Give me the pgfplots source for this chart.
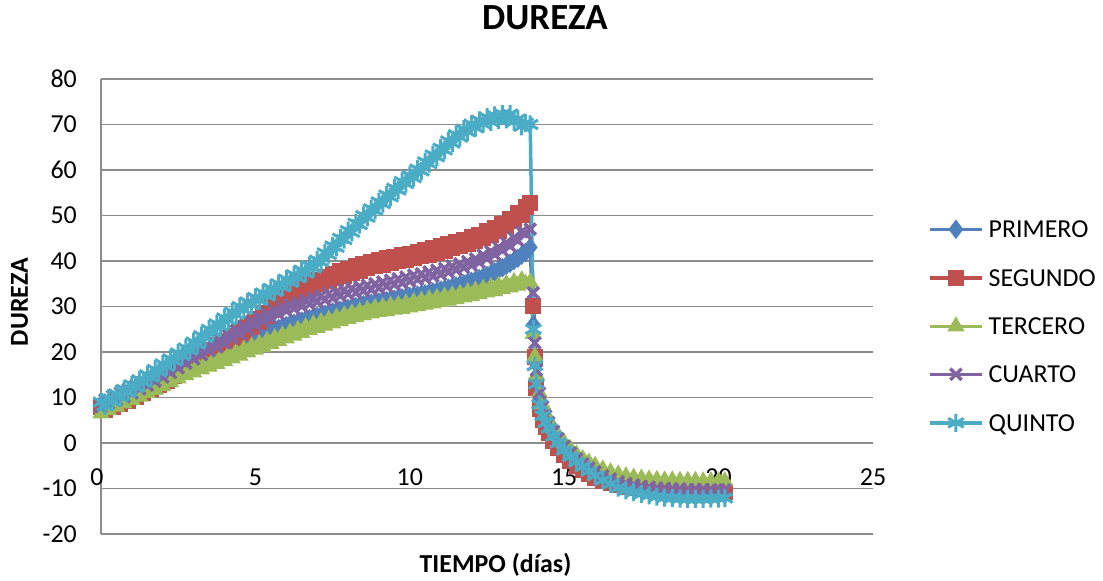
\documentclass[border=0pt]{standalone}
\usepackage{fontspec}
\setmainfont{Carlito}
\usepackage{pgfplots}
\usepackage{pgfplotstable}
\pgfplotsset{compat=1.18}

\definecolor{cPrimero}{HTML}{4F81BD}
\definecolor{cSegundo}{HTML}{C0504D}
\definecolor{cTercero}{HTML}{9BBB59}
\definecolor{cCuarto}{HTML}{8064A2}
\definecolor{cQuinto}{HTML}{4BACC6}
\definecolor{gridgray}{HTML}{8C8C8C}

% dureza por día: p = primero, s = segundo, t = tercero, c = cuarto, q = quinto
\pgfplotstableread{
x      p     s     t     c     q
0.000  8.5   8.0   6.5   8.0   9.0
0.125  8.8   7.2   7.9   9.5   8.2
0.250  9.0   8.7   7.2   8.7   9.8
0.375  9.3   7.9   8.6   10.3  9.1
0.500  9.5   9.4   8.0   9.5   10.8
0.625  9.8   8.6   9.4   11.0  10.1
0.750  10.0  10.1  8.7   10.2  11.8
0.875  10.3  9.3   10.1  11.8  11.1
1.000  10.6  10.9  9.5   11.0  12.8
1.125  11.0  10.1  10.9  12.6  12.2
1.250  11.3  11.7  10.2  11.9  13.9
1.375  11.7  11.0  11.6  13.5  13.3
1.500  12.0  12.6  11.0  12.7  15.0
1.625  12.4  11.9  12.4  14.3  14.4
1.750  12.8  13.5  11.7  13.6  16.2
1.875  13.2  12.8  13.1  15.2  15.6
2.000  13.6  14.4  12.5  14.5  17.4
2.125  14.0  13.7  14.0  16.2  16.8
2.250  14.4  15.4  13.4  15.5  18.5
2.375  14.8  14.7  14.8  17.2  18.0
2.500  15.2  16.4  14.2  16.5  19.8
2.625  15.6  15.7  15.6  18.2  19.2
2.750  16.0  17.4  14.9  17.5  20.9
2.875  16.4  16.8  16.2  19.2  20.4
3.000  16.8  18.5  15.5  18.5  22.2
3.125  17.2  17.8  16.9  20.1  21.7
3.250  17.6  19.5  16.2  19.4  23.6
3.375  18.0  18.8  17.5  21.0  23.1
3.500  18.4  20.5  16.8  20.3  25.0
3.625  18.8  19.8  18.1  21.9  24.4
3.750  19.2  21.5  17.4  21.1  26.2
3.875  19.6  20.8  18.7  22.7  25.7
4.000  20.0  22.5  18.0  22.0  27.5
4.125  20.4  21.9  19.3  23.7  27.0
4.250  20.8  23.6  18.6  23.0  28.8
4.375  21.2  23.0  19.9  24.7  28.2
4.500  21.6  24.7  19.2  24.0  30.0
4.625  22.0  24.1  20.6  25.7  29.3
4.750  22.4  25.9  19.9  25.0  31.0
4.875  22.8  25.4  21.2  26.7  30.3
5.000  23.2  27.2  20.5  26.0  32.0
5.125  23.6  26.7  21.8  27.6  31.3
5.250  23.9  28.5  21.1  26.8  33.0
5.375  24.3  28.0  22.5  28.3  32.3
5.500  24.6  29.8  21.8  27.5  34.0
5.625  24.9  29.2  23.1  29.1  33.3
5.750  25.2  31.0  22.4  28.3  35.0
5.875  25.5  30.4  23.7  29.8  34.3
6.000  25.8  32.2  23.0  29.0  36.0
6.125  26.1  31.5  24.3  30.4  35.3
6.250  26.3  33.2  23.6  29.5  37.0
6.375  26.6  32.5  24.9  30.9  36.3
6.500  26.8  34.1  24.2  30.0  38.0
6.625  27.1  33.4  25.5  31.4  37.3
6.750  27.3  35.0  24.8  30.5  39.0
6.875  27.6  34.2  26.1  31.9  38.4
7.000  27.8  35.8  25.3  31.0  40.2
7.125  28.1  35.0  26.6  32.4  39.8
7.250  28.3  36.5  25.8  31.4  41.8
7.375  28.6  35.6  27.1  32.8  41.4
7.500  28.8  37.1  26.3  31.8  43.3
7.625  29.0  36.2  27.6  33.2  43.0
7.750  29.2  37.7  26.8  32.3  45.0
7.875  29.4  36.8  28.1  33.7  44.7
8.000  29.6  38.3  27.3  32.7  46.7
8.125  29.8  37.4  28.5  34.0  46.3
8.250  30.0  38.8  27.7  33.0  48.3
8.375  30.2  37.9  28.9  34.4  48.0
8.500  30.4  39.3  28.1  33.4  50.0
8.625  30.6  38.4  29.3  34.7  49.6
8.750  30.7  39.8  28.5  33.7  51.5
8.875  30.9  38.8  29.7  35.0  51.1
9.000  31.0  40.2  28.8  34.0  53.0
9.125  31.2  39.2  29.9  35.4  52.6
9.250  31.3  40.6  29.0  34.4  54.5
9.375  31.5  39.6  30.2  35.8  54.1
9.500  31.6  40.9  29.3  34.8  56.0
9.625  31.8  39.9  30.4  36.1  55.6
9.750  31.9  41.3  29.5  35.1  57.5
9.875  32.1  40.3  30.7  36.5  57.0
10.000 32.2  41.6  29.8  35.5  58.8
10.125 32.4  40.6  31.0  36.9  58.3
10.250 32.5  42.0  30.1  35.9  60.2
10.375 32.7  41.0  31.3  37.2  59.8
10.500 32.8  42.4  30.4  36.2  61.8
10.625 33.0  41.4  31.6  37.6  61.4
10.750 33.2  42.8  30.7  36.6  63.3
10.875 33.4  41.8  31.9  38.0  62.9
11.000 33.6  43.2  31.0  37.0  64.8
11.125 33.8  42.3  32.2  38.4  64.4
11.250 34.0  43.7  31.3  37.5  66.4
11.375 34.3  42.8  32.5  38.9  65.9
11.500 34.5  44.2  31.6  38.0  67.8
11.625 34.8  43.3  32.8  39.4  67.2
11.750 35.0  44.7  32.0  38.5  69.0
11.875 35.3  43.8  33.2  39.9  68.4
12.000 35.5  45.2  32.3  39.0  70.1
12.125 35.8  44.3  33.5  40.5  69.3
12.250 36.1  45.8  32.7  39.7  70.9
12.375 36.5  45.0  33.9  41.3  70.1
12.500 36.8  46.5  33.1  40.5  71.6
12.625 37.2  45.7  34.3  42.1  70.6
12.750 37.6  47.3  33.4  41.4  72.0
12.875 38.1  46.6  34.6  43.0  71.0
13.000 38.5  48.2  33.8  42.3  72.3
13.125 39.0  47.6  35.0  44.0  71.1
13.250 39.5  49.3  34.2  43.3  72.3
13.375 40.1  48.7  35.4  45.1  70.6
13.500 40.6  50.5  34.6  44.5  71.2
13.625 41.3  50.0  35.8  46.4  69.6
13.750 41.9  51.8  35.0  46.0  70.3
13.900 43.0  52.8  35.3  47.0  70.0
14.000 26.0  30.0  24.0  33.0  25.0
14.050 19.0  19.0  19.0  22.0  17.0
14.100 14.0  12.0  15.0  16.0  13.0
14.200 9.5   7.5   11.0  11.0  8.5
14.300 7.0   5.0   8.5   8.0   6.0
14.400 5.2   3.5   6.5   6.0   4.5
14.500 3.8   2.3   5.0   4.5   3.3
14.650 2.0   0.5   3.2   2.6   1.5
14.800 0.4   -1.0  1.7   1.0   0.0
15.000 -1.2  -2.6  0.0   -0.7  -1.6
15.200 -2.6  -4.0  -1.3  -2.2  -3.0
15.400 -3.8  -5.0  -2.5  -3.5  -4.2
15.600 -4.9  -6.0  -3.5  -4.6  -5.2
15.800 -5.8  -6.8  -4.3  -5.5  -6.2
16.000 -6.6  -7.6  -5.0  -6.3  -7.2
16.250 -7.5  -8.3  -5.8  -7.2  -8.2
16.500 -8.2  -8.9  -6.4  -7.9  -9.0
16.750 -8.8  -9.3  -6.9  -8.5  -9.8
17.000 -9.3  -9.7  -7.3  -8.9  -10.4
17.250 -9.7  -10.0 -7.6  -9.2  -10.8
17.500 -10.0 -10.2 -7.8  -9.5  -11.2
17.750 -10.3 -10.4 -8.0  -9.7  -11.5
18.000 -10.5 -10.5 -8.1  -9.9  -11.8
18.250 -10.6 -10.6 -8.2  -10.0 -12.0
18.500 -10.7 -10.6 -8.2  -10.1 -12.1
18.750 -10.7 -10.7 -8.3  -10.1 -12.2
19.000 -10.8 -10.7 -8.3  -10.2 -12.3
19.250 -10.8 -10.7 -8.3  -10.2 -12.3
19.500 -10.8 -10.8 -8.4  -10.2 -12.3
19.750 -10.9 -10.8 -8.4  -10.3 -12.2
20.000 -10.9 -10.8 -8.4  -10.3 -12.2
20.200 -10.9 -10.8 -8.4  -10.3 -12.1
}\dureza

\begin{document}
\begin{tikzpicture}
\useasboundingbox (-101bp,-47bp) rectangle (1002bp,534bp);
\begin{axis}[
  at={(0,0)}, anchor=south west,
  scale only axis, width=772bp, height=455bp,
  xmin=0, xmax=25, ymin=-20, ymax=80,
  xtick={0,5,...,25}, ytick={-20,-10,...,80},
  xticklabels={\hspace*{-8bp}0,5,10,15,20,25},
  axis y line=left, axis x line=bottom,
  x axis line style={draw=none},
  y axis line style={-, draw=gridgray, line width=1.6bp},
  major tick length=0pt,
  ymajorgrids, grid style={gridgray, line width=1.6bp},
  tick label style={font=\fontsize{26}{30}\selectfont},
  /pgf/number format/assume math mode=true,
  yticklabel style={anchor=east, inner sep=0pt, xshift=-24bp},
  xticklabel style={anchor=center, inner sep=0pt, yshift=57bp},
  title={DUREZA},
  title style={at={(axis description cs:0.5751,1.1209)}, anchor=center,
    inner sep=0pt, font=\bfseries\fontsize{37}{40}\selectfont},
  xlabel={TIEMPO (días)},
  xlabel style={at={(axis description cs:0.511,-0.0857)}, anchor=base,
    inner sep=0pt, font=\bfseries\fontsize{26}{30}\selectfont},
  ylabel={DUREZA},
  ylabel style={at={(axis description cs:-0.0946,0.51)}, anchor=base,
    inner sep=0pt, font=\bfseries\fontsize{26}{30}\selectfont},
  clip=false,
  legend style={at={(axis description cs:1.0712,0.457)}, anchor=west,
    draw=none, fill=none, inner sep=0pt, row sep=31bp,
    font=\fontsize{26}{30}\selectfont,
    nodes={inner sep=0pt, text height=17bp, text depth=0pt}},
  legend cell align=left,
  legend image code/.code={
    \draw[mark repeat=2, mark phase=2, #1]
      plot coordinates {(0bp,0bp) (26bp,0bp) (52bp,0bp)};
    \path (57bp,0bp);
  },
]
\addplot[color=cPrimero, line width=3.5bp, mark=diamond*, mark size=9bp,
  mark options={solid, line width=1bp}] table[x=x, y=p] {\dureza};
\addlegendentry{PRIMERO}
\addplot[color=cSegundo, line width=3.5bp, mark=square*, mark size=7.5bp,
  mark options={solid, line width=1bp}] table[x=x, y=s] {\dureza};
\addlegendentry{SEGUNDO}
\addplot[color=cTercero, line width=3.5bp, mark=triangle*, mark size=9bp,
  mark options={solid, line width=1bp}] table[x=x, y=t] {\dureza};
\addlegendentry{TERCERO}
\addplot[color=cCuarto, line width=3.5bp, mark=x, mark size=8bp,
  mark options={solid, line width=3.5bp}] table[x=x, y=c] {\dureza};
\addlegendentry{CUARTO}
\addplot[color=cQuinto, line width=3.5bp, mark=asterisk, mark size=9bp,
  mark options={solid, line width=3bp}] table[x=x, y=q] {\dureza};
\addlegendentry{QUINTO}
\end{axis}
\end{tikzpicture}
\end{document}
